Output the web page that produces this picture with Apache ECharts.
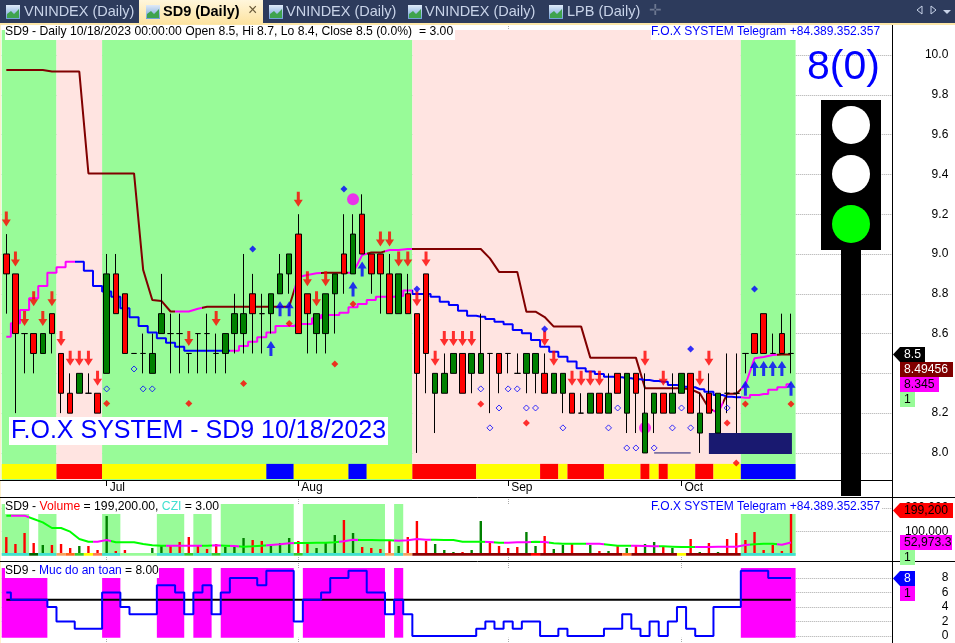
<!DOCTYPE html>
<html>
<head>
<meta charset="utf-8">
<style>
  html, body { margin: 0; padding: 0; background: #fff; }
  #chart { width: 955px; height: 643px; }
</style>
<script src="https://cdn.jsdelivr.net/npm/echarts@6/dist/echarts.min.js"></script>
</head>
<body>
<div id="chart"></div>
<script>
// ---- price bars, oldest first
const opens = [9.0,8.9,8.6,8.6,8.5,8.7,8.5,8.3,8.3,8.3,8.3,8.4,8.9,8.8,8.5,8.5,8.4,8.6,8.6,8.6,8.5,8.6,8.6,8.5,8.5,8.6,8.6,8.8,8.7,8.7,8.8,8.9,9.1,8.8,8.6,8.6,8.8,9.0,8.9,9.2,9.0,9.0,8.9,8.7,8.8,8.7,8.9,8.3,8.3,8.4,8.5,8.4,8.4,8.5,8.5,8.5,8.4,8.4,8.4,8.4,8.3,8.3,8.3,8.2,8.2,8.3,8.2,8.4,8.2,8.4,8.0,8.2,8.3,8.2,8.3,8.4,8.1,8.3,8.1,8.3,8.3,8.5,8.6,8.7,8.5,8.6,8.5]
const closes = [8.9,8.6,8.6,8.5,8.6,8.6,8.3,8.2,8.4,8.3,8.2,8.9,8.7,8.5,8.5,8.5,8.5,8.7,8.6,8.6,8.5,8.6,8.6,8.5,8.6,8.7,8.7,8.7,8.7,8.8,8.9,9.0,8.6,8.7,8.7,8.8,8.9,8.9,9.1,9.0,8.9,8.9,8.7,8.9,8.7,8.4,8.5,8.4,8.4,8.5,8.3,8.5,8.5,8.5,8.4,8.5,8.4,8.5,8.5,8.3,8.4,8.4,8.2,8.2,8.3,8.2,8.3,8.3,8.4,8.3,8.2,8.3,8.2,8.3,8.4,8.2,8.2,8.2,8.3,8.3,8.3,8.5,8.5,8.5,8.5,8.5,8.5]
const lows = [8.7,8.2,8.4,8.4,8.5,8.5,8.2,8.2,8.3,8.3,8.2,8.4,8.7,8.5,8.5,8.4,8.4,8.6,8.4,8.4,8.4,8.4,8.4,8.4,8.4,8.5,8.5,8.5,8.5,8.6,8.8,8.8,8.6,8.5,8.5,8.5,8.6,8.8,8.9,9.0,8.8,8.7,8.7,8.7,8.7,8.0,8.3,8.1,8.3,8.4,8.3,8.3,8.4,8.2,8.3,8.4,8.4,8.3,8.3,8.3,8.3,8.2,8.2,8.2,8.2,8.2,8.2,8.3,8.1,8.1,8.0,8.1,8.2,8.2,8.3,8.2,8.0,8.2,8.1,8.2,8.1,8.4,8.5,8.5,8.5,8.5,8.4]
const highs = [9.1,8.9,8.6,8.6,8.6,8.7,8.5,8.4,8.4,8.4,8.3,9.0,9.0,8.8,8.5,8.6,8.6,8.9,8.7,8.7,8.5,8.6,8.7,8.6,8.6,8.8,9.0,8.9,8.8,8.8,9.0,9.0,9.2,8.8,8.7,8.8,8.9,9.2,9.2,9.3,9.0,9.0,9.0,8.9,8.9,8.7,8.9,8.4,8.5,8.5,8.5,8.5,8.7,8.5,8.5,8.5,8.5,8.5,8.5,8.5,8.4,8.4,8.3,8.3,8.3,8.3,8.4,8.4,8.4,8.4,8.4,8.3,8.3,8.4,8.4,8.4,8.3,8.4,8.3,8.5,8.5,8.5,8.6,8.7,8.6,8.7,8.7]

// ---- the two trend lines on the price pane
const upperLine = [9.925,9.925,9.925,9.925,9.925,9.917,9.917,9.917,9.917,9.405,9.405,9.405,9.405,9.405,9.405,8.920,8.769,8.764,8.711,8.711,8.711,8.725,8.735,8.735,8.735,8.735,8.735,8.735,8.735,8.735,8.735,8.735,8.884,8.894,8.903,8.906,8.906,8.906,8.906,8.995,9.007,9.007,9.020,9.020,9.025,9.025,9.025,9.025,9.025,9.025,9.025,9.025,9.025,8.978,8.910,8.910,8.910,8.710,8.710,8.683,8.635,8.635,8.635,8.635,8.479,8.479,8.479,8.479,8.479,8.479,8.325,8.325,8.325,8.325,8.325,8.320,8.300,8.225,8.200,8.297,8.297,8.342,8.476,8.482,8.492,8.4946,8.4946]
const lowerLine = [8.584,8.652,8.719,8.777,8.839,8.906,8.933,8.961,8.961,8.916,8.839,8.811,8.785,8.727,8.682,8.638,8.605,8.576,8.554,8.534,8.514,8.514,8.514,8.514,8.514,8.514,8.538,8.559,8.581,8.605,8.638,8.638,8.648,8.648,8.677,8.693,8.693,8.705,8.732,8.749,8.769,8.785,8.785,8.789,8.816,8.799,8.799,8.785,8.760,8.744,8.715,8.690,8.685,8.673,8.660,8.647,8.618,8.602,8.568,8.534,8.509,8.484,8.459,8.426,8.409,8.397,8.383,8.380,8.375,8.370,8.367,8.362,8.358,8.342,8.333,8.330,8.320,8.308,8.291,8.283,8.280,8.278,8.291,8.296,8.317,8.330,8.345]
const upperColors = [[0,18,'#800000'],[19,21,'#ff00ff'],[22,31,'#800000'],[32,34,'#ff00ff'],[35,37,'#800000'],[38,39,'#ff00ff'],[40,41,'#800000'],[42,44,'#ff00ff'],[45,77,'#800000'],[78,78,'#ff00ff'],[79,80,'#800000'],[81,84,'#ff00ff'],[85,86,'#800000']]
const lowerColors = [[0,7,'#ff00ff'],[8,24,'#0000ff'],[25,44,'#ff00ff'],[45,80,'#0000ff'],[81,86,'#ff00ff']]

// ---- signals: [bar, price level]
const sellArrows = [[0,9.1],[1,8.9],[2,8.6],[3,8.7],[4,8.6],[5,8.7],[6,8.5],[7,8.4],[8,8.4],[9,8.4],[10,8.3],[20,8.5],[23,8.6],[32,9.2],[33,8.8],[34,8.7],[35,8.8],[41,9.0],[42,9.0],[43,8.9],[44,8.9],[45,8.7],[46,8.9],[47,8.4],[48,8.5],[49,8.5],[50,8.5],[51,8.5],[59,8.5],[60,8.4],[62,8.3],[63,8.3],[64,8.3],[65,8.3],[70,8.4],[72,8.3],[76,8.3],[77,8.4]]
const buyArrows = [[29,8.6],[30,8.8],[31,8.8],[38,8.9],[39,9.0],[81,8.4],[82,8.5],[83,8.5],[84,8.5],[85,8.5],[86,8.4]]
const blueDots = [[27,9.025],[37,9.327],[45,8.824],[59,8.623],[75,8.523],[82,8.824]]
const redDots = [[11,8.248],[20,8.248],[26,8.349],[31,8.650],[36,8.447],[38,8.749],[52,8.246],[57,8.151],[79,8.151],[80,7.950],[81,8.246],[86,8.246]]
const hollowDots = [[11,8.322],[14,8.422],[15,8.322],[16,8.322],[52,8.322],[53,8.126],[54,8.226],[55,8.322],[56,8.322],[57,8.226],[58,8.226],[61,8.126],[66,8.126],[67,8.226],[68,8.025],[69,8.025],[71,8.025],[73,8.126],[74,8.226],[75,8.126],[79,8.226]]
const bigDots = [[38,9.275],[70,8.126]]

// ---- background zones and status strips: [first bar, last bar, colour]
const priceZones = [[0,5,'#98fb98'],[6,10,'#ffe4e1'],[11,44,'#98fb98'],[45,80,'#ffe4e1'],[81,86,'#98fb98']]
const statusStrip = [[0,5,'#ffff00'],[6,10,'#ff0000'],[11,28,'#ffff00'],[29,31,'#0000ff'],[32,37,'#ffff00'],[38,39,'#0000ff'],[40,44,'#ffff00'],[45,51,'#ff0000'],[52,58,'#ffff00'],[59,60,'#ff0000'],[61,61,'#ffff00'],[62,65,'#ff0000'],[66,69,'#ffff00'],[70,70,'#ff0000'],[71,71,'#ffff00'],[72,72,'#ff0000'],[73,75,'#ffff00'],[76,77,'#ff0000'],[78,80,'#ffff00'],[81,86,'#0000ff']]
const navyBox = [[77.5,85.6,'#191970']]
const navyLine = [[71,8.0],[75,8.0]]
const volumeZones = [[0,86,'#ffffff'],[0,2,'#98fb98'],[4,5,'#98fb98'],[11,12,'#98fb98'],[17,19,'#98fb98'],[21,22,'#98fb98'],[24,31,'#98fb98'],[33,41,'#98fb98'],[43,43,'#98fb98'],[81,86,'#98fb98']]
const volumeStrip = [[0,2,'#40e0d0'],[3,3,'#006400'],[4,5,'#40e0d0'],[6,6,'#f4a460'],[7,7,'#ff6a20'],[8,8,'#32cd32'],[9,9,'#ffff00'],[10,10,'#ff7f50'],[11,12,'#40e0d0'],[13,16,'#98fb98'],[17,19,'#40e0d0'],[20,20,'#32cd32'],[21,22,'#40e0d0'],[23,23,'#32cd32'],[24,31,'#40e0d0'],[32,32,'#32cd32'],[33,41,'#40e0d0'],[42,42,'#f4a460'],[43,43,'#40e0d0'],[44,44,'#f4a460'],[45,57,'#8b0000'],[58,58,'#ff0000'],[59,67,'#8b0000'],[68,68,'#ff6a20'],[69,73,'#8b0000'],[74,74,'#ffff00'],[75,80,'#8b0000'],[81,86,'#40e0d0']]
const safetyZones = [[0,86,'#ffffff'],[0,4,'#ff00ff'],[11,12,'#ff00ff'],[17,19,'#ff00ff'],[21,22,'#ff00ff'],[24,31,'#ff00ff'],[33,41,'#ff00ff'],[43,43,'#ff00ff'],[81,86,'#ff00ff']]

// ---- volume pane
const volumes = [76000,46600,93200,50800,42400,42400,46600,29700,38100,38100,21200,165200,16900,21200,8500,8500,29700,38100,38100,55100,76200,38100,25400,46600,33900,33900,72000,63500,59300,38100,50800,72000,59300,55100,29700,55100,84700,148300,93200,33900,29700,25400,63500,38100,76200,144000,59300,46600,21200,12700,12700,21200,144000,50800,38100,29700,33900,97400,38100,80500,25400,42400,46600,8500,42400,16900,16900,38100,29700,42400,46600,55100,33900,29700,8500,67800,12700,50800,12700,67800,93200,63500,97400,21200,42400,16900,199200]
const volumeSides = ('rrrrgrrrgr' + 'rgrrrrggrr' + 'rrrrgggrrg' + 'ggrrgggrgr' + 'rrrgrrrggg' + 'rggrrrrggr' + 'ggrrgrgrgr' + 'ggrgrrgrgr' + 'rrrrrrr').split('')
const volumeAvg = [166600,166600,166600,152500,138400,114400,114400,98800,67800,56500,56500,63500,53700,53700,53700,46600,40900,39500,39500,39500,39500,39500,39500,40900,39500,38100,35300,36700,39500,42400,45200,49400,50800,50800,52200,52200,53700,57900,65000,63500,63500,62100,62100,60700,62100,67800,65000,65000,63500,63500,56500,56500,56500,55100,52200,52200,53700,53700,56500,55100,49400,48000,48000,48000,48000,48000,43800,39500,39500,39500,38100,36700,36700,35300,33900,33900,33900,33900,35300,35300,35300,42400,45200,48000,48000,43800,52973]
const volumeAvgColors = [[0,0,'#00ff00'],[1,2,'#ff00ff'],[3,9,'#00ff00'],[10,11,'#ff00ff'],[12,17,'#00ff00'],[18,21,'#ff00ff'],[22,22,'#00ff00'],[23,23,'#ff00ff'],[24,24,'#00ff00'],[25,25,'#ff00ff'],[26,28,'#00ff00'],[29,31,'#ff00ff'],[32,36,'#00ff00'],[37,38,'#ff00ff'],[39,42,'#00ff00'],[43,46,'#ff00ff'],[47,52,'#00ff00'],[53,53,'#ff00ff'],[54,54,'#00ff00'],[55,57,'#ff00ff'],[58,58,'#00ff00'],[59,59,'#ff00ff'],[60,63,'#00ff00'],[64,65,'#ff00ff'],[66,68,'#00ff00'],[69,71,'#ff00ff'],[72,75,'#00ff00'],[76,81,'#ff00ff'],[82,84,'#00ff00'],[85,86,'#ff00ff']]

// ---- safety level pane
const safetyLevel = [6,5,5,5,5,4,2,2,1,1,1,6,6,4,3,3,3,7,7,6,3,6,7,3,6,8,8,8,7,9,9,9,2,5,5,6,8,8,9,9,6,6,3,5,3,0,0,0,0,0,0,0,1,2,1,2,1,2,2,0,0,1,0,0,0,0,1,1,3,1,0,2,0,2,4,1,0,0,4,4,4,9,9,9,8,8,8]
const safetyMid = 5

// ---- axes
const monthBars = [11,32,55,74]
const monthNames = ['Jul','Aug','Sep','Oct']
const priceTicks = [8.0,8.2,8.4,8.6,8.8,9.0,9.2,9.4,9.6,9.8,10.0]
const volumeTicks = [100000,200000]
const safetyTicks = [0,2,4,6,8]

const FONT = '"Liberation Sans", Arial, sans-serif'
const X_MIN = -0.5
const X_MAX = 97.1

const withIndex = (arr) => arr.map((v, i) => [i, v])
const colorPieces = (runs) => runs.map((r) => ({ gte: r[0] - 0.5, lt: r[1] + 0.5, color: r[2] }))

function bandSeries(runs, gridIndex, top, bottom, z) {
  return {
    type: 'custom',
    xAxisIndex: gridIndex,
    yAxisIndex: gridIndex,
    z,
    silent: true,
    data: runs.map((r) => [r[0], r[1]]),
    renderItem(params, api) {
      const r = runs[params.dataIndex]
      const a = api.coord([r[0] - 0.5, top])
      const b = api.coord([r[1] + 0.5, bottom])
      return {
        type: 'rect',
        shape: { x: a[0], y: a[1], width: b[0] - a[0], height: b[1] - a[1] },
        style: { fill: r[2] },
      }
    },
  }
}

function lineSeries(values, gridIndex, width, z, color, step) {
  return {
    type: 'line',
    xAxisIndex: gridIndex,
    yAxisIndex: gridIndex,
    z,
    step: step || false,
    symbol: 'none',
    silent: true,
    lineStyle: { width, color },
    data: withIndex(values),
  }
}

function markerSeries(data, symbol, size, style, offset, z) {
  return {
    type: 'scatter',
    xAxisIndex: 0,
    yAxisIndex: 0,
    z: z || 8,
    symbol,
    symbolSize: size,
    symbolOffset: offset || [0, 0],
    itemStyle: style,
    silent: true,
    data,
  }
}

const ARROW_DOWN = 'path://M3,0 L6,0 L6,8 L9,8 L4.5,15 L0,8 L3,8 Z'
const ARROW_UP = 'path://M3,15 L6,15 L6,7 L9,7 L4.5,0 L0,7 L3,7 Z'

const series = [
  // price pane
  bandSeries(priceZones, 0, 10.126, 7.864, 1),
  bandSeries(navyBox, 0, 8.1, 7.995, 2),
  markerSeries(bigDots, 'circle', 12, { color: '#ff00ff' }, null, 2),
  lineSeries(upperLine, 0, 2, 3),
  lineSeries(lowerLine, 0, 2, 3, undefined, 'middle'),
  {
    type: 'line', xAxisIndex: 0, yAxisIndex: 0, z: 3, symbol: 'none', silent: true,
    lineStyle: { width: 1, color: '#191970' }, data: navyLine,
  },
  {
    type: 'candlestick',
    xAxisIndex: 0,
    yAxisIndex: 0,
    z: 5,
    silent: true,
    barWidth: 6,
    encode: { x: 0, y: [1, 2, 3, 4] },
    itemStyle: {
      color: '#008000', color0: '#ff0000',
      borderColor: '#000', borderColor0: '#000', borderColorDoji: '#000', borderWidth: 1,
    },
    data: opens.map((o, i) => [i, o, closes[i], lows[i], highs[i]]),
  },
  bandSeries(statusStrip, 0, 7.945, 7.869, 6),
  markerSeries(sellArrows, ARROW_DOWN, [9, 15], { color: '#ff0000' }, [0, -15]),
  markerSeries(buyArrows, ARROW_UP, [9, 15], { color: '#0000ff' }, [0, 15]),
  markerSeries(blueDots, 'diamond', 7, { color: '#0000ff' }),
  markerSeries(redDots, 'diamond', 7, { color: '#ff0000' }),
  markerSeries(hollowDots, 'diamond', 6, { color: 'rgba(0,0,0,0)', borderColor: '#0000ff', borderWidth: 1 }),
  // volume pane
  bandSeries(volumeZones, 1, 216000, -3000, 1),
  {
    type: 'bar',
    xAxisIndex: 1,
    yAxisIndex: 1,
    z: 3,
    silent: true,
    barWidth: 2.4,
    data: volumes.map((v, i) => ({
      value: [i, v],
      itemStyle: { color: volumeSides[i] === 'r' ? '#ff0000' : '#008000' },
    })),
  },
  bandSeries(volumeStrip, 1, 8500, -3000, 4),
  lineSeries(volumeAvg, 1, 2, 5),
  // safety pane
  bandSeries(safetyZones, 2, 9.38, -0.23, 1),
  lineSeries(safetyLevel.map(() => safetyMid), 2, 2, 3, '#000'),
  lineSeries(safetyLevel, 2, 2, 4, '#0000ff', 'middle'),
]

const idxOfLine = (values) => series.findIndex((s) => s.type === 'line' && s.data.length === values.length && s.data[3][1] === values[3])

const xAxis = (gridIndex, showLabel) => ({
  type: 'value',
  gridIndex,
  min: X_MIN,
  max: X_MAX,
  axisLine: { show: false },
  axisTick: { show: showLabel, length: 6, customValues: monthBars, lineStyle: { color: '#000' } },
  splitLine: { show: true, lineStyle: { color: '#aaa', type: 'dotted' } },
  axisLabel: {
    show: showLabel,
    customValues: monthBars,
    margin: 2,
    align: 'left',
    padding: [0, 0, 0, 3],
    color: '#000',
    fontFamily: FONT,
    fontSize: 12,
    formatter: (v) => monthNames[monthBars.indexOf(v)],
  },
})

const yAxis = (gridIndex, min, max, ticks, formatter) => ({
  type: 'value',
  gridIndex,
  position: 'right',
  min,
  max,
  axisLine: { show: false },
  axisTick: { show: true, length: 5, customValues: ticks, lineStyle: { color: '#000' } },
  splitLine: { show: true, lineStyle: { color: '#aaa', type: 'dotted' } },
  axisLabel: {
    customValues: ticks,
    margin: 56,
    align: 'right',
    color: '#000',
    fontFamily: FONT,
    fontSize: 12,
    formatter,
  },
})

// ---- fixed furniture around the chart: tabs, captions, price tags, traffic light
const rect = (x, y, w, h, fill, extra) => ({
  type: 'rect', z: 50, silent: true, shape: { x, y, width: w, height: h }, style: { fill }, ...extra,
})
const hline = (x1, x2, y) => ({
  type: 'line', z: 60, silent: true, shape: { x1, y1: y + 0.5, x2, y2: y + 0.5 }, style: { stroke: '#000', lineWidth: 1 },
})
const label = (x, y, text, font, fill, extra) => ({
  type: 'text', z: 70, silent: true,
  style: { x, y, text, font, fill, textVerticalAlign: 'middle', ...extra },
})
const smallFont = `12px ${FONT}`
const captionFont = `12.2px ${FONT}`
const tabFont = `14.5px ${FONT}`

function tabIcon(x) {
  return [
    rect(x, 5, 14, 14, {
      type: 'linear', x: 0, y: 0, x2: 0, y2: 1,
      colorStops: [{ offset: 0, color: '#dfeaf8' }, { offset: 1, color: '#6f9fd8' }],
    }),
    {
      type: 'polygon', z: 51, silent: true,
      shape: { points: [[x + 1, 18], [x + 1, 14], [x + 5, 11], [x + 8, 14], [x + 13, 9], [x + 13, 18]] },
      style: { fill: '#3fa34d' },
    },
  ]
}

function priceTag(x, y, w, text, fill, color, pointer) {
  const els = []
  if (pointer) {
    els.push({
      type: 'polygon', z: 65, silent: true,
      shape: { points: [[893, y + 7.5], [900, y], [900, y + 15]] },
      style: { fill },
    })
  }
  els.push({ ...rect(x, y, w, 15, fill), z: 65 })
  els.push(label(x + 4, y + 7.5, text, captionFont, color))
  return els
}

const graphicEls = [
  // tab bar
  rect(0, 0, 955, 23, '#2d3b5c'),
  rect(0, 23, 955, 2, '#fde7a8'),
  rect(0, 25, 1, 618, '#fdf0cc'),
  rect(139, 0, 124, 24, {
    type: 'linear', x: 0, y: 0, x2: 0, y2: 1,
    colorStops: [{ offset: 0, color: '#fff6dc' }, { offset: 1, color: '#fde3a0' }],
  }),
  ...tabIcon(6), ...tabIcon(146), ...tabIcon(269), ...tabIcon(408), ...tabIcon(549),
  label(24, 12, 'VNINDEX (Daily)', tabFont, '#c8d3e8'),
  label(163, 12, 'SD9 (Daily)', `bold ${tabFont}`, '#000'),
  label(248, 11, '×', `16px ${FONT}`, '#6b5b3a'),
  label(286, 12, 'VNINDEX (Daily)', tabFont, '#c8d3e8'),
  label(425, 12, 'VNINDEX (Daily)', tabFont, '#c8d3e8'),
  label(567, 12, 'LPB (Daily)', tabFont, '#c8d3e8'),
  label(649, 11, '✛', `15px ${FONT}`, '#6d7891'),
  { type: 'polygon', z: 60, silent: true, shape: { points: [[922, 6], [917, 10], [922, 14]] }, style: { fill: 'none', stroke: '#c8d3e8' } },
  { type: 'polygon', z: 60, silent: true, shape: { points: [[931, 6], [936, 10], [931, 14]] }, style: { fill: 'none', stroke: '#c8d3e8' } },
  { type: 'polygon', z: 60, silent: true, shape: { points: [[943, 10], [951, 10], [947, 14]] }, style: { fill: '#c8d3e8' } },

  // pane frames
  hline(0, 892, 480),
  hline(0, 955, 497),
  hline(0, 955, 561),
  { type: 'line', z: 60, silent: true, shape: { x1: 892.5, y1: 25, x2: 892.5, y2: 643 }, style: { stroke: '#000', lineWidth: 1 } },

  // captions
  rect(5, 25, 450, 15, '#fff'),
  label(5, 32, 'SD9 - Daily 10/18/2023 00:00:00 Open 8.5, Hi 8.7, Lo 8.4, Close 8.5 (0.0%)  = 3.00', captionFont, '#000'),
  rect(651, 25, 231, 15, '#fff'),
  label(651, 32, 'F.O.X SYSTEM Telegram +84.389.352.357', smallFont, '#0000ff'),
  rect(9, 417, 379, 28, '#fff'),
  label(11, 431, 'F.O.X SYSTEM - SD9 10/18/2023', `25px ${FONT}`, '#0000ff'),
  rect(5, 498, 214, 16, '#fff'),
  label(5, 507, '{k|SD9 - }{r|Volume}{k| = 199,200.00, }{c|CZI}{k| = 3.00}', captionFont, '#000', {
    rich: {
      k: { font: captionFont, fill: '#000' },
      r: { font: captionFont, fill: '#ff0000' },
      c: { font: captionFont, fill: '#40e0d0' },
    },
  }),
  rect(651, 498, 231, 16, '#fff'),
  label(651, 507, 'F.O.X SYSTEM Telegram +84.389.352.357', smallFont, '#0000ff'),
  rect(5, 562, 154, 16, '#fff'),
  label(5, 571, '{k|SD9 - }{b|Muc do an toan}{k| = 8.00}', smallFont, '#000', {
    rich: {
      k: { font: smallFont, fill: '#000' },
      b: { font: smallFont, fill: '#0000ff' },
    },
  }),

  // traffic light
  label(807, 68, '8(0)', `41px ${FONT}`, '#0000ff'),
  rect(821, 100, 60, 150, '#000'),
  rect(841, 250, 20, 246, '#000'),
  { type: 'circle', z: 60, silent: true, shape: { cx: 851, cy: 125, r: 19 }, style: { fill: '#fff' } },
  { type: 'circle', z: 60, silent: true, shape: { cx: 851, cy: 174, r: 19 }, style: { fill: '#fff' } },
  { type: 'circle', z: 60, silent: true, shape: { cx: 851, cy: 224, r: 19 }, style: { fill: '#00ff00' } },

  // last-value tags
  ...priceTag(900, 347, 25, '8.5', '#000', '#fff', true),
  ...priceTag(900, 362, 53, '8.49456', '#800000', '#fff'),
  ...priceTag(900, 377, 39, '8.345', '#ff00ff', '#000'),
  ...priceTag(900, 392, 15, '1', '#98fb98', '#000'),
  ...priceTag(900, 503, 53, '199,200', '#ff0000', '#000', true),
  ...priceTag(900, 535, 52, '52,973.3', '#ff00ff', '#000'),
  ...priceTag(900, 550, 15, '1', '#98fb98', '#000'),
  ...priceTag(900, 571, 15, '8', '#0000ff', '#fff', true),
  ...priceTag(900, 586, 15, '1', '#ff00ff', '#000'),
]

const option = {
  animation: false,
  backgroundColor: '#fff',
  grid: [
    { left: 1.74, width: 890.56, top: 22, height: 458 },
    { left: 1.74, width: 890.56, top: 497, height: 64 },
    { left: 1.74, width: 890.56, top: 561, height: 82 },
  ],
  xAxis: [xAxis(0, true), xAxis(1, false), xAxis(2, false)],
  yAxis: [
    yAxis(0, 7.864, 10.166, priceTicks, (v) => v.toFixed(1)),
    yAxis(1, -25424, 245763, volumeTicks, (v) => v.toLocaleString('en-US')),
    yAxis(2, -0.9655, 10.345, safetyTicks, (v) => `${v}`),
  ],
  visualMap: [
    { type: 'piecewise', show: false, dimension: 0, seriesIndex: idxOfLine(upperLine), pieces: colorPieces(upperColors) },
    { type: 'piecewise', show: false, dimension: 0, seriesIndex: idxOfLine(lowerLine), pieces: colorPieces(lowerColors) },
    { type: 'piecewise', show: false, dimension: 0, seriesIndex: idxOfLine(volumeAvg), pieces: colorPieces(volumeAvgColors) },
  ],
  series,
  graphic: { elements: graphicEls },
}

const myChart = echarts.init(document.getElementById('chart'), null, { renderer: 'canvas' })
myChart.setOption(option)
</script>
</body>
</html>
